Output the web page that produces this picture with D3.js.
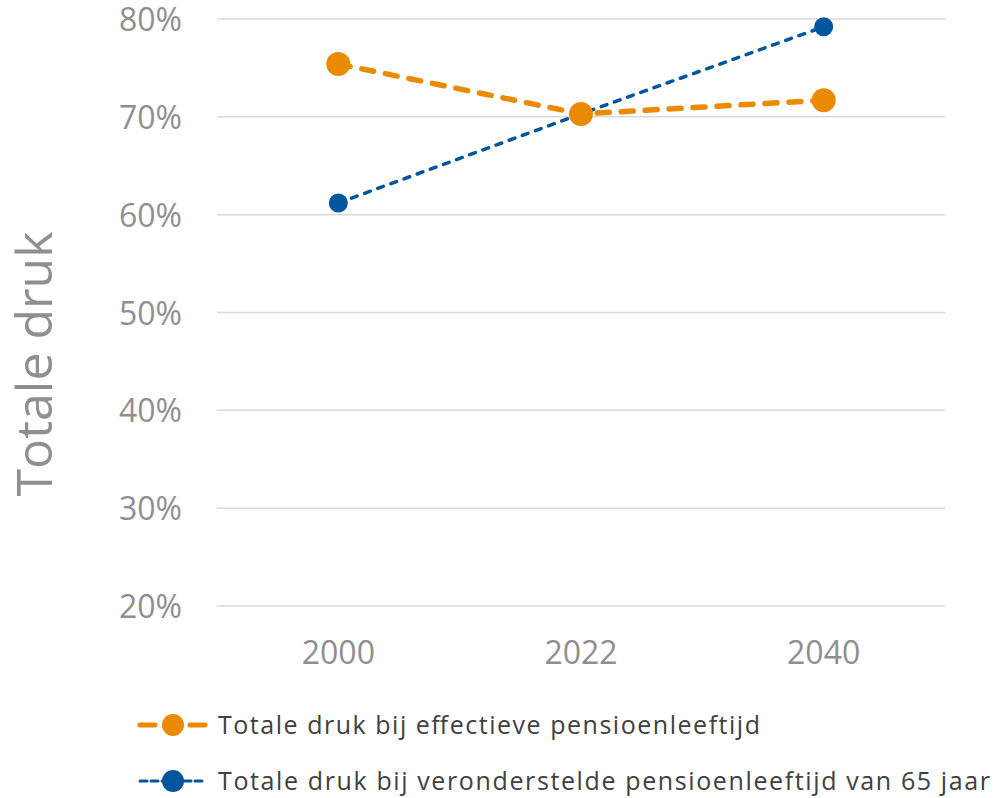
<!DOCTYPE html>
<html>
<head>
<meta charset="utf-8">
<script src="https://cdn.jsdelivr.net/npm/d3@7"></script>
<style>
  body { margin: 0; background: #fff; }
  text { font-family: "Open Sans", "DejaVu Sans", sans-serif; }
</style>
</head>
<body>
<div id="chart"></div>
<script>
const years = ["2000", "2022", "2040"];
const effectief = [0.754, 0.703, 0.717];
const vijfenzestig = [0.612, 0.703, 0.792];
const yTicks = [0.2, 0.3, 0.4, 0.5, 0.6, 0.7, 0.8];
const seriesNames = [
  "Totale druk bij effectieve pensioenleeftijd",
  "Totale druk bij veronderstelde pensioenleeftijd van 65 jaar"
];

const W = 994, H = 798;
const MARGIN = { top: 19, right: 49, bottom: 192, left: 217 };
const innerW = W - MARGIN.left - MARGIN.right;
const innerH = H - MARGIN.top - MARGIN.bottom;

const svg = d3.select("#chart").append("svg").attr("width", W).attr("height", H);
const g = svg.append("g").attr("transform", `translate(${MARGIN.left},${MARGIN.top})`);

const x = d3.scaleBand().domain(years).range([0, innerW]);
const y = d3.scaleLinear().domain([0.2, 0.8]).range([innerH, 0]);
const fmtPct = d3.format(".0%");

// gridlines
g.append("g").selectAll("line").data(yTicks).join("line")
  .attr("x1", 0).attr("x2", innerW)
  .attr("y1", d => y(d)).attr("y2", d => y(d))
  .attr("stroke", "#d9d9d9").attr("stroke-width", 1.5);

// y axis labels
const gy = g.append("g").attr("transform", "translate(-35,0)")
  .call(d3.axisLeft(y).tickValues(yTicks).tickFormat(fmtPct).tickSize(0).tickPadding(0));
gy.select(".domain").remove();
gy.selectAll("text").attr("font-size", 32).attr("fill", "#8f8f8f")
  .attr("font-family", "\"Open Sans\", sans-serif").attr("dy", "0.36em");

// x axis labels
const gx = g.append("g").attr("transform", `translate(0,${innerH + 35})`)
  .call(d3.axisBottom(x).tickSize(0).tickPadding(0));
gx.select(".domain").remove();
gx.selectAll("text").attr("font-size", 32).attr("fill", "#8f8f8f")
  .attr("font-family", "\"Open Sans\", sans-serif").attr("dy", "0.72em");

// y title
svg.append("text")
  .attr("transform", "translate(52,364) rotate(-90)")
  .attr("text-anchor", "middle")
  .attr("font-size", 50).attr("fill", "#8f8f8f")
  .text("Totale druk");

const series = [
  { name: seriesNames[1], values: vijfenzestig, color: "#00569c", width: 3.5, dash: "6,8", r: 9.5, lr: 11, ldash: "7,4", lw: 3 },
  { name: seriesNames[0], values: effectief, color: "#ea8a00", width: 5.5, dash: "12,12", r: 12, lr: 11, ldash: "15,35", lw: 5 }
];

const cx = d => x(d) + x.bandwidth() / 2;
const line = d3.line().x((d, i) => cx(years[i])).y(d => y(d));

series.forEach(s => {
  g.append("path").datum(s.values)
    .attr("d", line)
    .attr("fill", "none")
    .attr("stroke", s.color)
    .attr("stroke-width", s.width)
    .attr("stroke-dasharray", s.dash)
    .attr("stroke-linecap", "round");
  g.append("g").selectAll("circle").data(s.values).join("circle")
    .attr("cx", (d, i) => cx(years[i]))
    .attr("cy", d => y(d))
    .attr("r", s.r)
    .attr("fill", s.color);
});

// legend
const legend = svg.append("g").attr("transform", "translate(140,725)");
const legendItems = [series[1], series[0]];
const textLens = [542, 772];
legendItems.forEach((s, i) => {
  const row = legend.append("g").attr("transform", `translate(0,${i * 56})`);
  row.append("line")
    .attr("x1", 0).attr("x2", 66).attr("y1", 0).attr("y2", 0)
    .attr("stroke", s.color).attr("stroke-width", s.lw)
    .attr("stroke-dasharray", s.ldash)
    .attr("stroke-linecap", "round");
  row.append("circle").attr("cx", 33).attr("cy", 0).attr("r", s.lr).attr("fill", s.color);
  row.append("text")
    .attr("x", 78).attr("y", 9)
    .attr("font-size", 25).attr("fill", "#404040")
    .attr("textLength", textLens[i])
    .text(s.name);
});
</script>
</body>
</html>
